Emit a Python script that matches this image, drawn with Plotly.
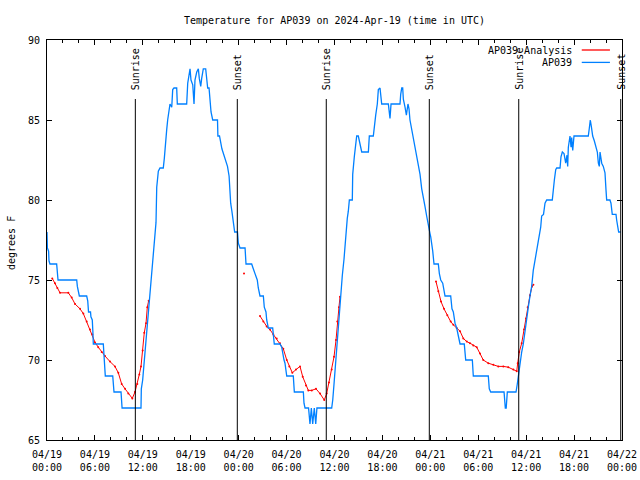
import pandas as pd
import plotly.graph_objects as go

# ---------------- data (hours since 2024-04-19 00:00 UTC) ----------------
start = pd.Timestamp("2024-04-19 00:00")

obs_hours = [
    0.00, 0.05, 0.20, 0.25, 0.37, 1.21, 1.38, 3.72, 3.80, 4.05, 4.97, 5.10, 5.20, 5.45, 5.50,
    5.67, 5.75, 5.80, 7.05, 7.15, 7.30, 8.23, 8.39, 9.27, 9.40, 11.77,
    11.81, 11.98, 12.15, 12.31, 12.48, 12.69, 12.90, 13.11, 13.31, 13.52, 13.65, 13.74, 13.94,
    14.15, 14.56, 14.69, 14.78, 14.86, 14.99, 15.11, 15.28, 15.40, 15.62, 15.74, 15.90, 16.24,
    16.32, 17.49, 17.62, 17.78, 17.91, 18.03, 18.25, 18.41, 18.53, 18.75, 18.95, 19.07, 19.25,
    19.37, 19.57, 19.87, 20.00, 20.12, 20.29, 20.41, 20.54, 20.75, 21.35, 21.40, 21.60, 21.90,
    22.15, 22.40, 22.60, 22.80, 22.90, 23.00, 23.15, 23.40, 23.50, 23.85, 23.96, 24.17, 24.80,
    24.92, 25.63, 25.83, 26.17, 26.33, 26.46, 26.67, 27.09, 27.21, 27.42, 27.51, 27.71, 28.26,
    28.46, 29.18, 29.39, 29.51, 29.68, 29.80, 30.02, 30.84, 30.97, 32.10, 32.18, 32.31, 32.75,
    32.93, 33.10, 33.27, 33.47, 33.65, 33.80, 35.65, 35.78, 35.94, 36.10, 36.28, 36.40, 36.56,
    36.78, 36.98, 37.19, 37.31, 37.44, 37.60, 37.73, 37.86, 38.23, 38.28, 38.48, 38.66, 38.78,
    38.98, 39.19, 39.41, 40.24, 40.36, 40.86, 40.99, 41.16, 41.36, 41.49, 41.70, 41.82, 41.91,
    42.74, 42.83, 42.95, 43.08, 44.20, 44.29, 44.42, 44.54, 44.62, 44.83, 45.00, 45.20, 45.33,
    45.45, 45.66, 45.87, 46.08, 46.29, 46.49, 46.71, 46.92, 47.12, 47.33, 47.54, 47.74, 47.84,
    47.96, 48.05, 48.17, 48.30, 48.46, 49.00, 49.13, 49.30, 49.55, 49.84, 50.55, 50.71, 50.88,
    51.09, 51.30, 51.50, 51.72, 52.25, 52.43, 53.26, 53.38, 55.26, 55.38, 55.56, 57.23, 57.39,
    57.50, 57.64, 58.73, 58.89, 59.02, 59.23, 59.44, 59.64, 59.86, 60.07, 60.27, 60.48, 60.69,
    60.89, 61.11, 61.32, 61.52, 61.65, 61.82, 61.94, 62.17, 62.36, 62.57, 63.27, 63.40, 63.53,
    63.70, 63.82, 64.24, 64.36, 64.53, 64.74, 64.95, 65.11, 65.20, 65.28, 65.49, 65.62, 65.70,
    65.83, 65.99, 67.78, 67.91, 68.03, 68.16, 68.33, 68.53, 68.71, 68.91, 69.04, 69.16, 69.25,
    69.37, 69.46, 69.66, 69.87, 70.00, 70.08, 70.49, 70.62, 70.78, 71.25, 71.33, 71.46, 71.58,
    71.84,
]
obs_temps = [
    78.0, 77.0, 76.8, 76.2, 76.0, 76.0, 75.0, 75.0, 74.6, 74.0, 74.0, 73.7, 73.0, 73.0, 72.7,
    72.5, 71.7, 71.0, 71.0, 70.0, 69.0, 69.0, 68.0, 68.0, 67.0, 67.0,
    68.2, 68.75, 69.8, 70.8, 71.7, 72.7, 74.5, 75.8, 76.7, 78.3, 78.6, 80.8, 81.8,
    82.0, 82.0, 82.6, 83.3, 84.0, 84.4, 85.0, 85.8, 86.0, 85.8, 86.9, 87.0, 87.0,
    86.0, 86.0, 87.3, 87.8, 88.2, 87.5, 87.2, 86.0, 87.5, 88.0, 88.2, 87.6, 87.1,
    87.6, 88.2, 88.2, 87.3, 87.0, 87.0, 86.0, 85.5, 85.0, 85.0, 84.0, 84.0, 83.2,
    82.8, 82.3, 82.1, 81.5, 80.5, 79.8, 79.3, 78.1, 78.0, 78.0, 77.3, 77.0, 77.0,
    76.0, 76.0, 75.7, 75.2, 75.0, 74.5, 74.0, 74.0, 73.3, 73.0, 72.5, 72.0, 72.0,
    71.0, 71.0, 70.8, 70.4, 70.0, 69.8, 69.0, 69.0, 68.0, 68.0, 67.3, 67.0, 67.0,
    66.0, 67.0, 66.0, 67.0, 66.0, 67.0, 67.0, 67.5, 68.5, 69.6, 70.8, 71.7, 72.5,
    74.0, 75.3, 76.3, 77.0, 78.2, 78.85, 79.3, 80.0, 80.0, 81.6, 82.7, 83.3, 84.0,
    84.0, 83.4, 83.0, 83.0, 84.0, 84.0, 84.8, 85.3, 86.0, 86.9, 87.0, 86.5, 86.0,
    86.0, 85.6, 85.1, 86.0, 86.0, 86.6, 87.0, 87.0, 86.3, 85.8, 85.3, 86.0, 85.7,
    85.0, 84.4, 84.0, 83.3, 82.8, 82.1, 81.6, 80.7, 80.0, 79.6, 79.0, 78.4, 78.0,
    77.9, 77.7, 77.3, 76.8, 76.0, 76.0, 75.4, 75.0, 74.8, 74.0, 74.0, 73.2, 73.0,
    72.3, 72.0, 71.5, 71.0, 71.0, 70.0, 70.0, 69.0, 69.0, 68.2, 68.0, 68.0, 67.0,
    67.0, 68.0, 68.0, 68.5, 69.0, 69.8, 70.5, 71.0, 71.9, 72.7, 73.3, 74.0, 74.6,
    75.6, 76.25, 76.9, 77.3, 77.8, 78.3, 79.0, 79.1, 79.8, 80.0, 80.0, 80.8, 81.25,
    81.9, 82.0, 82.0, 82.7, 83.0, 82.9, 82.3, 82.8, 82.1, 83.3, 84.0, 83.3, 83.9,
    83.1, 84.0, 84.0, 84.5, 85.0, 84.6, 84.0, 83.7, 83.4, 83.0, 82.3, 82.1, 83.0,
    82.7, 82.3, 82.1, 81.7, 80.6, 80.0, 80.0, 79.8, 79.1, 79.1, 78.75, 78.3, 78.0,
    78.0,
]

# analysis series (None = gap)
ana_hours = [
    0.66, 1.00, 1.29, 1.63, 2.67, 3.09, 3.51, 4.13, 4.55, 4.97, 5.38, 5.67, 6.01, 6.42, 6.85,
    7.26, 7.89, 8.51, 8.93, 9.35, 9.77, 10.18, 10.68, 11.02, 11.31, 11.56, 11.77, 11.98, 12.18,
    12.40, 12.56, 12.73, None,
    24.67, None,
    26.67, 27.09, 27.51, 27.92, 28.34, 28.76, 29.18, 29.59, 30.02, 30.34, 30.72, 31.18, 31.68,
    32.02, 32.43, 32.72, 33.15, 33.68, 34.19, 34.72, 35.02, 35.31, 35.65, 35.94, 36.19, 36.35,
    36.56, 36.69, None,
    48.71, 49.00, 49.34, 49.71, 50.13, 50.55, 50.88, 51.30, 51.72, 52.13, 52.56, 52.97, 53.38,
    53.81, 54.22, 54.63, 55.26, 55.89, 56.51, 57.14, 57.76, 58.39, 58.82, 58.94, 59.14, 59.44,
    59.73, 59.98, 60.19, 60.48, 60.73, 60.90,
]
ana_temps = [
    75.1, 74.8, 74.5, 74.2, 74.2, 73.9, 73.5, 73.2, 72.9, 72.4, 71.9, 71.6, 71.1, 70.8, 70.5,
    70.25, 69.9, 69.6, 69.2, 68.5, 68.2, 67.9, 67.6, 68.0, 68.5, 69.1, 69.6, 70.6, 71.7,
    72.3, 73.3, 73.7, None,
    75.4, None,
    72.75, 72.4, 72.1, 71.9, 71.6, 71.35, 71.05, 70.7, 70.0, 69.6, 69.2, 69.4, 69.6,
    68.95, 68.4, 68.1, 68.1, 68.2, 67.9, 67.5, 67.9, 68.6, 69.4, 70.2, 71.25, 72.4,
    73.3, 73.96, None,
    74.9, 74.3, 73.65, 73.2, 72.8, 72.4, 72.2, 72.0, 71.8, 71.35, 71.15, 71.05, 70.9,
    70.8, 70.4, 70.0, 69.8, 69.7, 69.6, 69.6, 69.55, 69.4, 69.3, 69.8, 70.5, 71.05,
    71.9, 72.6, 73.3, 74.05, 74.6, 74.7,
]

sun_event_hours = [11.06, 23.83, 34.97, 47.87, 59.07, 71.84]
sun_event_labels = ["Sunrise", "Sunset", "Sunrise", "Sunset", "Sunrise", "Sunset"]

series_names = ["AP039 Analysis", "AP039"]
series_colors = ["rgb(255,0,0)", "rgb(0,128,255)"]

title_text = "Temperature for AP039 on 2024-Apr-19 (time in UTC)"
y_title = "degrees F"
y_range = [65, 90]

# ---------------- figure ----------------
def to_time(hours):
    return [None if h is None else start + pd.Timedelta(hours=h) for h in hours]

FONT = "DejaVu Sans Mono"

fig = go.Figure()

fig.add_trace(go.Scatter(
    x=to_time(ana_hours), y=ana_temps, mode="lines+markers",
    line=dict(color=series_colors[0], width=1),
    marker=dict(color=series_colors[0], size=2),
    connectgaps=False, showlegend=False, name=series_names[0],
))
fig.add_trace(go.Scatter(
    x=to_time(obs_hours), y=obs_temps, mode="lines",
    line=dict(color=series_colors[1], width=1.3),
    showlegend=False, name=series_names[1],
))

# sunrise / sunset markers
for h, lab in zip(sun_event_hours, sun_event_labels):
    t = start + pd.Timedelta(hours=h)
    fig.add_shape(type="line", xref="x", yref="paper", x0=t, x1=t, y0=0, y1=0.8525,
                  line=dict(color="black", width=1))
    fig.add_annotation(x=t, y=0.870, xref="x", yref="paper", text=lab, textangle=-90,
                       showarrow=False, xanchor="center", yanchor="bottom",
                       font=dict(family=FONT, size=10, color="black"))

# gnuplot-style key (text left, sample line right)
key_y = [0.975, 0.944]
for name, col, ky in zip(series_names, series_colors, key_y):
    fig.add_annotation(x=0.9157, y=ky, xref="paper", yref="paper", text=name,
                       showarrow=False, xanchor="right", yanchor="middle",
                       font=dict(family=FONT, size=10, color="black"))
    fig.add_shape(type="line", xref="paper", yref="paper", x0=0.930, x1=0.979,
                  y0=ky, y1=ky, line=dict(color=col, width=1.3))

# y-axis title
fig.add_annotation(x=(11 - 47) / 575, y=0.4925, xref="paper", yref="paper", text=y_title,
                   textangle=-90, showarrow=False, xanchor="center", yanchor="middle",
                   font=dict(family=FONT, size=10, color="black"))

fig.update_layout(
    width=640, height=480,
    margin=dict(l=47, r=18, t=40, b=40),
    paper_bgcolor="white", plot_bgcolor="white",
    font=dict(family=FONT, size=10, color="black"),
    title=dict(text=title_text, x=334.5 / 640, xref="container", xanchor="center",
               y=1 - 20 / 480, yanchor="middle",
               font=dict(family=FONT, size=10, color="black")),
    showlegend=False,
)
fig.update_xaxes(
    type="date", automargin=False,
    range=[start, start + pd.Timedelta(hours=72)],
    tick0=start, dtick=6 * 3600 * 1000,
    tickformat="%m/%d<br>%H:%M",
    ticks="inside", ticklen=5, tickcolor="black",
    minor=dict(dtick=2 * 3600 * 1000, ticks="inside", ticklen=3, tickcolor="black"),
    showline=True, linecolor="black", linewidth=1, mirror="ticks",
    showgrid=False, zeroline=False, ticklabelstandoff=5, ticklabeloverflow="allow",
)
fig.update_yaxes(
    automargin=False,
    range=y_range, dtick=5,
    ticks="inside", ticklen=5, tickcolor="black",
    showline=True, linecolor="black", linewidth=1, mirror="ticks",
    showgrid=False, zeroline=False, ticklabelstandoff=4,
)

# remove the default page margin so the 640x480 figure fills the window exactly;
# hide the interactive mode bar so it never covers the title
fig.write_html("out.html", config={"displayModeBar": False},
               post_script="document.body.style.margin='0px';")
